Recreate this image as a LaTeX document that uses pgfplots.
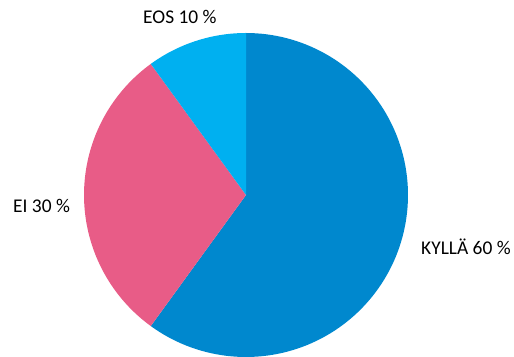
\documentclass[border=0pt]{standalone}
\usepackage{pgfplots}
\pgfplotsset{compat=1.18}
\usepackage{fontspec}
\setmainfont{Carlito}
\definecolor{kylla}{HTML}{0088CE}
\definecolor{ei}{HTML}{E85C87}
\definecolor{eos}{HTML}{00B0F0}
% shares in percent
\def\vKylla{60}
\def\vEi{30}
\def\vEos{10}
\begin{document}
\begin{tikzpicture}
\begin{axis}[
  scale only axis, width=514bp, height=357bp,
  xmin=0, xmax=514, ymin=0, ymax=357,
  hide axis, clip=false,
]
\path (axis cs:0,0) rectangle (axis cs:514,357);
% KYLLÄ: clockwise from 12 o'clock
\addplot[fill=kylla, draw=none, domain={90-3.6*\vKylla}:90, samples=120]
  ({246+162*cos(x)},{162+162*sin(x)}) -- (axis cs:246,162) -- cycle;
% EI
\addplot[fill=ei, draw=none, domain={90-3.6*(\vKylla+\vEi)}:{90-3.6*\vKylla}, samples=80]
  ({246+162*cos(x)},{162+162*sin(x)}) -- (axis cs:246,162) -- cycle;
% EOS
\addplot[fill=eos, draw=none, domain={90-3.6*(\vKylla+\vEi+\vEos)}:{90-3.6*(\vKylla+\vEi)}, samples=40]
  ({246+162*cos(x)},{162+162*sin(x)}) -- (axis cs:246,162) -- cycle;
\node[anchor=base west, inner sep=0pt, font=\fontsize{19.5}{22}\selectfont] at (axis cs:143,333.7) {EOS 10 \%};
\node[anchor=base west, inner sep=0pt, font=\fontsize{19.5}{22}\selectfont] at (axis cs:13,144) {EI 30 \%};
\node[anchor=base west, inner sep=0pt, font=\fontsize{19.5}{22}\selectfont] at (axis cs:421,102) {KYLLÄ 60 \%};
\end{axis}
\end{tikzpicture}
\end{document}
